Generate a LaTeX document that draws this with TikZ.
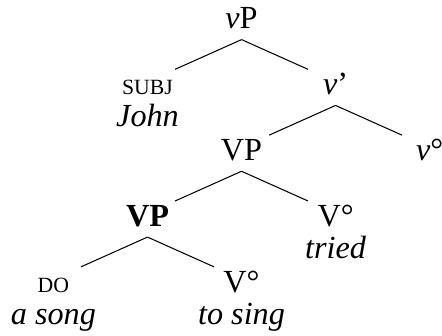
\documentclass[tikz,border=0pt]{standalone}
\usepackage{fontspec}
\setmainfont{Liberation Serif}
\newcommand{\smallcat}[1]{{\fontsize{12.5}{12.5}\selectfont #1}}
\newcommand{\twoline}[2]{\begin{tabular}[t]{@{}c@{}}#1\\#2\end{tabular}}

\begin{document}
\begin{tikzpicture}[level distance=13.3mm, sibling distance=38mm, line width=0.6pt,
        growth parent anchor=base, child anchor=base,
        edge from parent path={([yshift=-2.2mm]\tikzparentnode.base) -- ([yshift=2.6mm]\tikzchildnode.base)}]
        \tikzstyle{every node}=[anchor=base, inner sep=0pt, font=\fontsize{18.5}{18.5}\selectfont]
        \tikzstyle{edge from parent}=[draw, shorten >=6.1mm]
        \useasboundingbox (-48.8mm,-62mm) rectangle (40.5mm,5.8mm);
        \node (vp) {\textit{v}P}
            child {node (subj) {\twoline{\smallcat{SUBJ}}{\textit{John}}}}
            child {node (vbar) {\textit{v}'}
                child {node (vp2) {VP}
                    child {node (vp3) {\textbf{VP}}
                        child {node (do) {\twoline{\smallcat{DO}}{\textit{a song}}}}
                        child {node (vsing) {\twoline{V°}{\textit{to sing}}}}}
                    child {node (vtried) {\twoline{V°}{\textit{tried}}}}}
                child {node (vhead) {\textit{v}°}}};
    \end{tikzpicture}
\end{document}
